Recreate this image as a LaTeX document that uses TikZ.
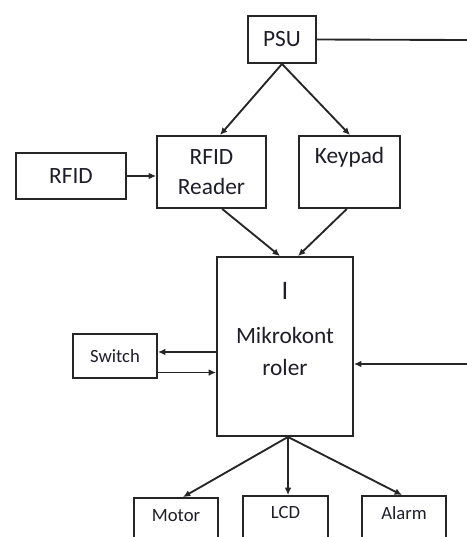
\documentclass[tikz,border=0pt]{standalone}
\usepackage{fontspec}
\setmainfont{Carlito}
\usetikzlibrary{arrows.meta}
\definecolor{ink}{HTML}{262626}
\definecolor{txt}{HTML}{1E1E2A}
\begin{document}
\begin{tikzpicture}[x=0.75pt,y=-0.75pt,
  box/.style={draw=ink,line width=1.4pt,fill=white,inner sep=0pt,text=txt},
  big/.style={font=\fontsize{17.5}{21.5}\selectfont},
  small/.style={font=\fontsize{14}{17}\selectfont},
  conn/.style={draw=ink,line width=1.4pt},
  arr/.style={conn,-{Latex[length=5.5pt,width=5pt]}}]
\useasboundingbox (0,0) rectangle (467,537);
\clip (0,0) rectangle (467,537);
% boxes
\node[box,big,minimum width=68*0.75pt,minimum height=47*0.75pt] (psu) at (282,39.5) {PSU};
\node[box,big,minimum width=110*0.75pt,minimum height=46*0.75pt] (rfid) at (71,176) {RFID};
\node[box,big,minimum width=109*0.75pt,minimum height=72*0.75pt,align=center,
      font=\fontsize{17.5}{22}\selectfont] (reader) at (211.5,172) {RFID\\Reader};
\node[box,minimum width=101*0.75pt,minimum height=72*0.75pt,
      label={[big,text=txt,yshift=11.25pt]center:Keypad}] (keypad) at (349.5,172) {};
\node[box,minimum width=136*0.75pt,minimum height=179*0.75pt,
      label={[font=\fontsize{20}{24}\selectfont,text=txt,yshift=42pt]center:I},
      label={[big,text=txt,yshift=8.6pt]center:Mikrokont},
      label={[big,text=txt,yshift=-15.4pt]center:roler}] (mcu) at (285,346.5) {};
\node[box,small,minimum width=84*0.75pt,minimum height=44*0.75pt] (switch) at (115,356) {Switch};
\node[box,minimum width=84*0.75pt,minimum height=60*0.75pt,
      label={[small,text=txt,yshift=9pt]center:Motor}] (motor) at (176,528) {};
\node[box,minimum width=85*0.75pt,minimum height=60*0.75pt,
      label={[small,text=txt,yshift=10pt]center:LCD}] (lcd) at (285.5,526) {};
\node[box,minimum width=84*0.75pt,minimum height=60*0.75pt,
      label={[small,text=txt,yshift=10pt]center:Alarm}] (alarm) at (404,526) {};
% free ends at the right edge
\coordinate (edgeA) at (467,40);
\coordinate (edgeB) at (467,364);
% connectors
\draw[conn] (psu.east) -- (edgeA);
\draw[arr] (psu.south) -- ([xshift=6.4pt]reader.north);
\draw[arr] (psu.south) -- ([xshift=0.4pt]keypad.north);
\draw[arr] (rfid.east) -- (rfid.east -| reader.west);
\draw[arr] ([xshift=8pt]reader.south) -- ([xshift=-3.75pt]mcu.north);
\draw[arr] ([xshift=-2pt]keypad.south) -- ([xshift=9.75pt]mcu.north);
\draw[arr] ([yshift=-4.1pt]mcu.west) -- ([yshift=-4.1pt]mcu.west -| switch.east);
\draw[arr] ([yshift=-12.4pt]switch.east) -- ([yshift=-12.4pt]switch.east -| mcu.west);
\draw[arr] (edgeB) -- (edgeB -| mcu.east);
\draw[arr] ([xshift=2.25pt]mcu.south) -- ([xshift=5.25pt]motor.north);
\draw[arr] ([xshift=2.25pt]mcu.south) -- ([xshift=1.9pt]lcd.north);
\draw[arr] ([xshift=2.25pt]mcu.south) -- ([xshift=-1.5pt]alarm.north);
\end{tikzpicture}
\end{document}
